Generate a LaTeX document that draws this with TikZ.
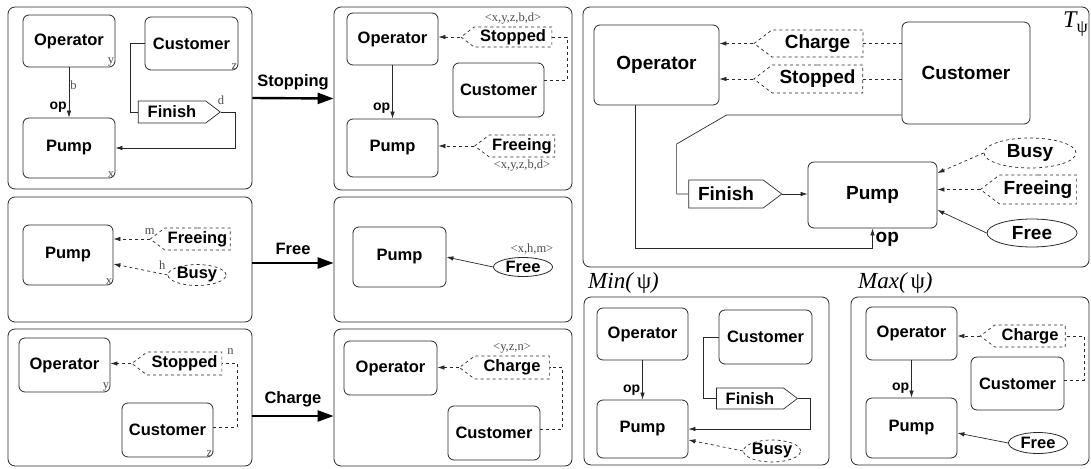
\documentclass[tikz,border=0pt]{standalone}
\usepackage{fontspec}
\setmainfont{Liberation Serif}
\setsansfont{Liberation Sans}
\usetikzlibrary{positioning, arrows.meta, shapes.geometric, shapes.symbols, calc}
\definecolor{lineclr}{RGB}{40,40,40}
\tikzset{
    panel/.style={rectangle, rounded corners=7pt, draw=lineclr, line width=0.8pt},
    comp/.style={rectangle, rounded corners=6pt, draw=lineclr, line width=0.8pt, inner sep=0pt, font=\sffamily\bfseries\fontsize{16.5}{18}\selectfont},
    bigfont/.style={font=\sffamily\bfseries\fontsize{19}{21}\selectfont},
    sendevt/.style={signal, signal to=east, signal pointer angle=74, draw=lineclr, line width=0.7pt, inner sep=0pt, font=\sffamily\bfseries\fontsize{16.5}{18}\selectfont},
    recvevt/.style={sendevt, signal to=west, dashed},
    busyevt/.style={ellipse, draw=lineclr, dashed, line width=0.7pt, inner sep=0pt, font=\sffamily\bfseries\fontsize{16.5}{18}\selectfont},
    freeevt/.style={ellipse, draw=lineclr, line width=0.8pt, inner sep=0pt, font=\sffamily\bfseries\fontsize{16.5}{18}\selectfont},
    idx/.style={font=\fontsize{12.5}{13}\selectfont, text=black!70, inner sep=1pt},
    oplbl/.style={font=\sffamily\bfseries\fontsize{14}{15}\selectfont, inner sep=2pt},
    link/.style={-{Latex[length=7pt,width=4.5pt]}, draw=lineclr, line width=0.7pt},
    dlink/.style={link, dashed},
    wire/.style={draw=lineclr, line width=0.7pt},
    dwire/.style={wire, dashed},
    trans/.style={-{Triangle[length=16pt,width=11pt]}, line width=2.4pt},
    translbl/.style={font=\sffamily\bfseries\fontsize{16.5}{18}\selectfont},
    setlbl/.style={font=\itshape\fontsize{23}{25}\selectfont, inner sep=0pt}
}

\begin{document}
\begin{tikzpicture}[x=1pt, y=-1pt]
    \useasboundingbox (0,0) rectangle (1091,468);

    % Panels
    \node[panel, minimum width=244pt, minimum height=182pt] (p1) at (130,98) {};
    \node[panel, minimum width=238pt, minimum height=183pt] (p2) at (453,98.5) {};
    \node[panel, minimum width=506pt, minimum height=260pt] (p3) at (836,137) {};
    \node[panel, minimum width=244pt, minimum height=125pt] (p4) at (130,259.5) {};
    \node[panel, minimum width=238pt, minimum height=125pt] (p5) at (453,259.5) {};
    \node[panel, minimum width=244pt, minimum height=137pt] (p6) at (130,397.5) {};
    \node[panel, minimum width=238pt, minimum height=137pt] (p7) at (453,397.5) {};
    \node[panel, minimum width=245pt, minimum height=168pt] (p8) at (706.5,381) {};
    \node[panel, minimum width=238pt, minimum height=168pt] (p9) at (970,381) {};

    % Transitions
    \draw[trans] (p1.east) -- node[translbl, above=4pt] (trstop) {Stopping} (p2.west);
    \draw[trans] ([yshift=-3.5pt]p4.east) -- node[translbl, above=4pt] (trfree) {Free} ([yshift=-3.5pt]p5.west);
    \draw[trans] ([yshift=-18.5pt]p6.east) -- node[translbl, above=4pt] (trcharge) {Charge} ([yshift=-18.5pt]p7.west);

    % Stopping, before
    \node[comp, minimum width=92pt, minimum height=52pt] (op1) at (69,41) {Operator};
    \node[comp, minimum width=93pt, minimum height=53pt] (cu1) at (191.5,43.5) {Customer};
    \node[comp, minimum width=92pt, minimum height=60pt] (pu1) at (69,148) {Pump};
    \node[sendevt, minimum width=82pt, minimum height=22pt] (fi1) at (172,112) {Finish};
    \node[idx, anchor=south east] (y1) at (op1.south east) {y};
    \node[idx, anchor=south east] (z1) at (cu1.south east) {z};
    \node[idx, anchor=south east] (x1) at (pu1.south east) {x};
    \node[idx, above=6pt] (d1) at (fi1.east) {d};
    \draw[link] (op1) -- node[idx, pos=0.35, right] (b1) {b} node[oplbl, pos=0.8, left] (opl1) {op} (pu1);
    \draw[wire] (cu1.west) -- ++(-14,0) |- (fi1.west);
    \draw[link] (fi1.east) -- ++(14,0) |- (pu1.east);

    % Stopping, after
    \node[comp, minimum width=91pt, minimum height=52pt] (op2) at (392.5,39) {Operator};
    \node[comp, minimum width=91pt, minimum height=54pt] (cu2) at (498.5,90) {Customer};
    \node[comp, minimum width=91pt, minimum height=58pt] (pu2) at (392.5,148) {Pump};
    \node[recvevt, minimum width=91pt, minimum height=20pt] (st2) at (513,37) {Stopped};
    \node[recvevt, minimum width=80pt, minimum height=22pt] (fr2) at (522,146) {Freeing};
    \node[idx, above=1pt] (tu2) at (st2.north) {<x,y,z,b,d>};
    \node[idx, below=1pt] (tl2) at (fr2.south) {<x,y,z,b,d>};
    \draw[dwire] ([yshift=10pt]cu2.east) -- ++(23,0) |- (st2.east);
    \draw[dlink] (st2.west) -- (op2.east |- st2.west);
    \draw[link] (op2) -- node[oplbl, pos=0.8, left] (opl2) {op} (pu2);
    \draw[dlink] (fr2.west) -- (pu2.east |- fr2.west);

    % T_psi
    \node[comp, bigfont, minimum width=125pt, minimum height=80pt] (op3) at (656.5,65) {Operator};
    \node[comp, bigfont, minimum width=128pt, minimum height=102pt] (cu3) at (966,73) {Customer};
    \node[comp, bigfont, minimum width=129pt, minimum height=66pt] (pu3) at (872.5,195) {Pump};
    \node[recvevt, bigfont, minimum width=109pt, minimum height=27pt] (ch3) at (817.5,43.5) {Charge};
    \node[recvevt, bigfont, minimum width=109pt, minimum height=28pt] (st3) at (817.5,79) {Stopped};
    \node[sendevt, bigfont, minimum width=93pt, minimum height=28pt] (fi3) at (726,194) {Finish};
    \node[recvevt, bigfont, minimum width=96pt, minimum height=29pt] (fr3) at (1038,189.5) {Freeing};
    \node[busyevt, bigfont, minimum width=92pt, minimum height=30pt] (bu3) at (1030,153) {Busy};
    \node[freeevt, bigfont, minimum width=90pt, minimum height=28pt] (fe3) at (1032,233) {Free};
    \node[anchor=north east, inner sep=0pt] (tpsi) at (1088,12) {{\fontsize{24}{26}\selectfont\itshape T}{\fontsize{18}{20}\selectfont\raisebox{-5pt}{ψ}}};
    \draw[dwire] (cu3.west |- ch3.east) -- (ch3.east);
    \draw[dwire] (cu3.west |- st3.east) -- (st3.east);
    \draw[dlink] (ch3.west) -- (op3.east |- ch3.west);
    \draw[dlink] (st3.west) -- (op3.east |- st3.west);
    \draw[wire] ([yshift=-42pt]cu3.west) -- ++(-175,0) -- ++(-50,29) |- (fi3.west);
    \draw[link] (fi3.east) -- (pu3.west |- fi3.east);
    \draw[dlink] (bu3.west) -- ([yshift=22pt]pu3.east);
    \draw[dlink] (fr3.west) -- (pu3.east |- fr3.west);
    \draw[link] (fe3.west) -- ([yshift=-15pt]pu3.east);
    \draw[link] ([xshift=-21.5pt]op3.south) -- ++(0,143) -| (pu3.south);
    \node[oplbl, bigfont, right=1pt] (opl3) at ([yshift=-11pt]pu3.south) {op};

    % Free, before
    \node[comp, minimum width=90pt, minimum height=60pt] (pu4) at (68,255) {Pump};
    \node[idx, anchor=south east] (x4) at (pu4.south east) {x};
    \node[recvevt, minimum width=80pt, minimum height=22pt] (fr4) at (197.5,239) {Freeing};
    \node[busyevt, minimum width=58pt, minimum height=20pt] (bu4) at (197,275) {Busy};
    \draw[dlink] (fr4.west) -- node[idx, at start, above=3pt] (m4) {m} (pu4.east |- fr4.west);
    \draw[dlink] (bu4.west) -- node[idx, pos=0.1, above=3pt] (h4) {h} ([yshift=-9pt]pu4.east);

    % Free, after
    \node[comp, minimum width=93pt, minimum height=60pt] (pu5) at (399.5,257) {Pump};
    \node[freeevt, minimum width=59pt, minimum height=19pt] (fe5) at (523,267) {Free};
    \node[idx, above=1pt] (tl5) at ([xshift=9pt]fe5.north) {<x,h,m>};
    \draw[link] (fe5.west) -- (pu5.east);

    % Charge, before
    \node[comp, minimum width=91pt, minimum height=54pt] (op6) at (64.5,365) {Operator};
    \node[comp, minimum width=91pt, minimum height=54pt] (cu6) at (167.5,430) {Customer};
    \node[idx, anchor=south east] (y6) at (op6.south east) {y};
    \node[idx, anchor=south east] (z6) at (cu6.south east) {z};
    \node[recvevt, minimum width=90pt, minimum height=23pt] (st6) at (184.5,363.5) {Stopped};
    \node[idx, anchor=west] (n6) at ([xshift=4pt]st6.north east) {n};
    \draw[dwire] ([yshift=3pt]cu6.east) -- ++(24,0) |- (st6.east);
    \draw[dlink] (st6.west) -- (op6.east |- st6.west);

    % Charge, after
    \node[comp, minimum width=93pt, minimum height=54pt] (op7) at (390.5,368) {Operator};
    \node[comp, minimum width=92pt, minimum height=54pt] (cu7) at (494,433) {Customer};
    \node[recvevt, minimum width=90pt, minimum height=23pt] (ch7) at (512,367.5) {Charge};
    \node[idx, above=1pt] (tu7) at (ch7.north) {<y,z,n>};
    \draw[dwire] ([yshift=4pt]cu7.east) -- ++(22,0) |- (ch7.east);
    \draw[dlink] (ch7.west) -- (op7.east |- ch7.west);

    % Min(psi)
    \node[setlbl, anchor=south west] (minl) at (588,294) {Min(\,\textup{ψ})};
    \node[comp, minimum width=91pt, minimum height=52pt] (op8) at (642.5,334) {Operator};
    \node[comp, minimum width=93pt, minimum height=54pt] (cu8) at (765.5,337) {Customer};
    \node[comp, minimum width=91pt, minimum height=58pt] (pu8) at (642.5,429) {Pump};
    \node[sendevt, minimum width=81pt, minimum height=21pt] (fi8) at (750,398.5) {Finish};
    \node[busyevt, minimum width=57pt, minimum height=22pt] (bu8) at (772,451) {Busy};
    \draw[wire] (cu8.west) -- ++(-15,0) |- (fi8.west);
    \draw[link] (fi8.east) -- ++(12,0) |- (pu8.east);
    \draw[link] (op8) -- node[oplbl, pos=0.75, left] (opl8) {op} (pu8);
    \draw[dlink] (bu8.west) -- ([yshift=-11pt]pu8.east);

    % Max(psi)
    \node[setlbl, anchor=south west] (maxl) at (858,294) {Max(\,\textup{ψ})};
    \node[comp, minimum width=91pt, minimum height=53pt] (op9) at (911.5,333.5) {Operator};
    \node[comp, minimum width=93pt, minimum height=53pt] (cu9) at (1017.5,383.5) {Customer};
    \node[comp, minimum width=91pt, minimum height=60pt] (pu9) at (911.5,428) {Pump};
    \node[recvevt, minimum width=85pt, minimum height=22pt] (ch9) at (1030,336) {Charge};
    \node[freeevt, minimum width=59pt, minimum height=21pt] (fe9) at (1038,443) {Free};
    \draw[dwire] ([yshift=3.5pt]cu9.east) -- ++(20,0) |- (ch9.east);
    \draw[dlink] (ch9.west) -- (op9.east |- ch9.west);
    \draw[link] (op9) -- node[oplbl, pos=0.75, left] (opl9) {op} (pu9);
    \draw[link] (fe9.west) -- ([yshift=-5pt]pu9.east);
\end{tikzpicture}
\end{document}
